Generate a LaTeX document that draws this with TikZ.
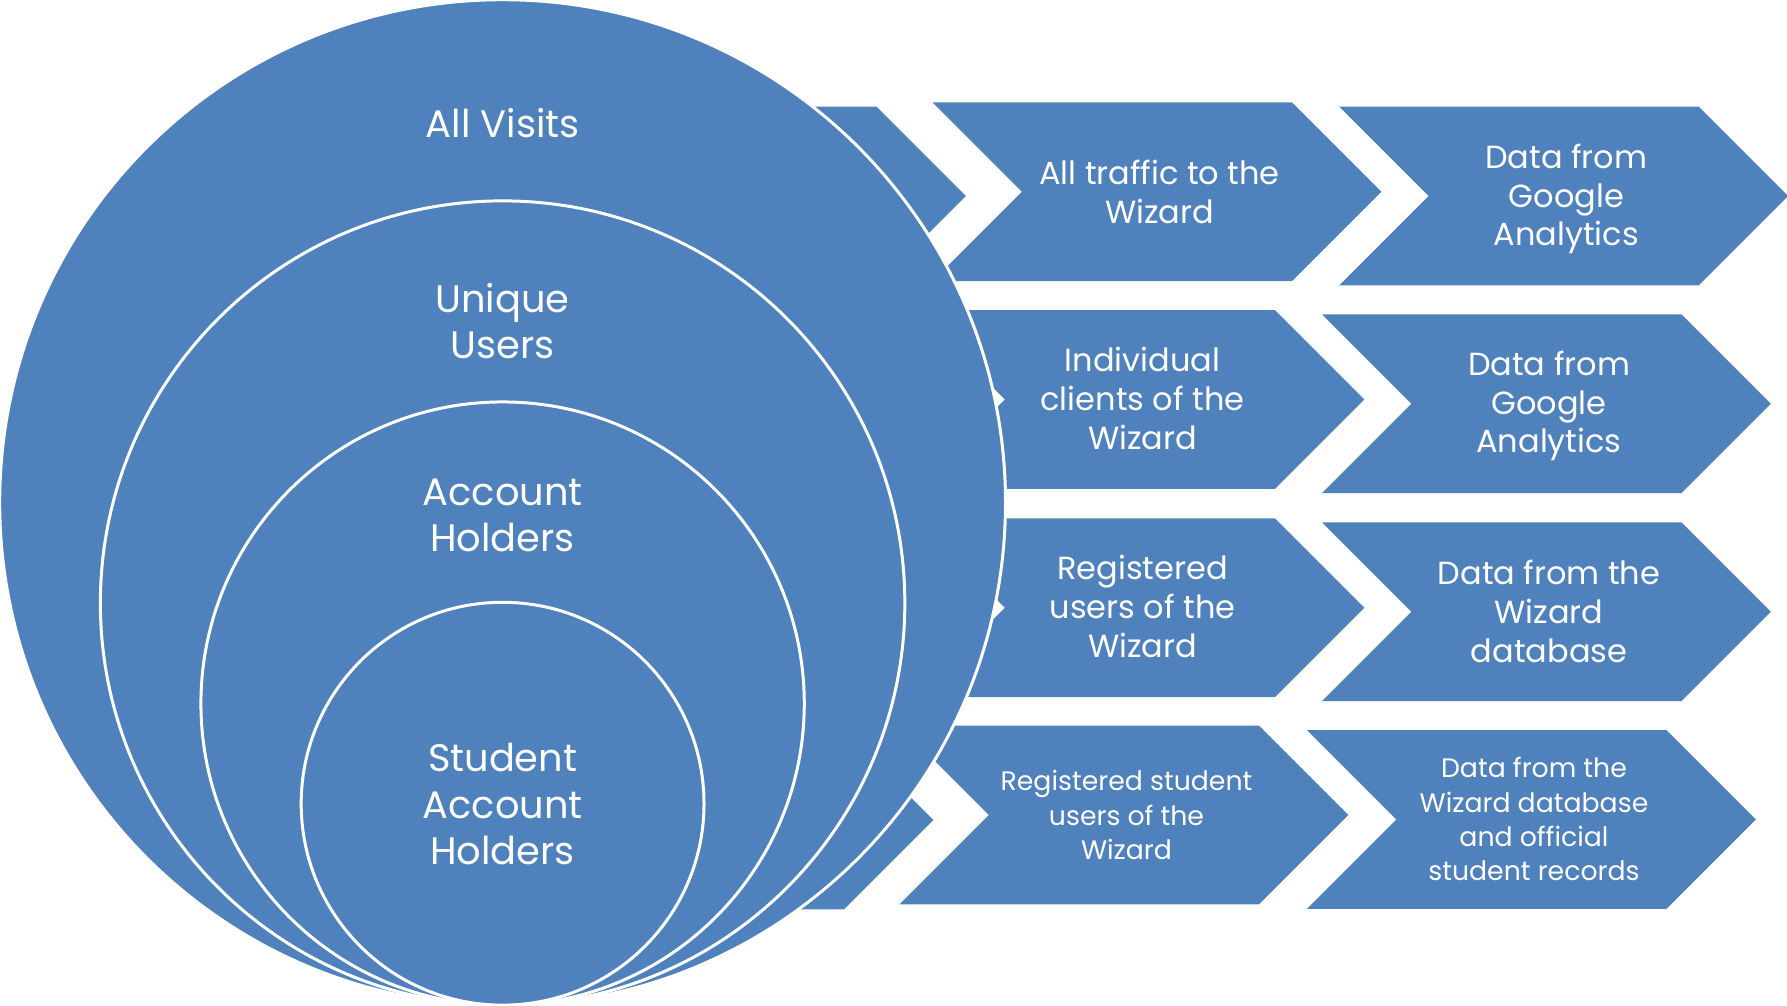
\documentclass[tikz,border=0pt]{standalone}
\usepackage{fontspec}
\setmainfont{Poppins}
\definecolor{acc}{HTML}{4F81BD}
\newcommand\mychev[2]{\fill[chev] (#1,#2-89.4) -- ++(359.5,0) -- ++(89.4,89.4) -- ++(-89.4,89.4) -- ++(-359.5,0) -- ++(89.4,-89.4) -- cycle;}
\begin{document}
\begin{tikzpicture}[x=0.01cm,y=-0.01cm,
  chev/.style={fill=acc},
  ring/.style={fill=acc,draw=white,line width=0.85pt},
  lbl/.style={text=white,align=center,inner sep=0pt},
  big/.style={lbl,font=\fontsize{10.9}{13.1}\selectfont},
  mid/.style={lbl,font=\fontsize{9.1}{11.05}\selectfont},
  small/.style={lbl,font=\fontsize{7.6}{9.7}\selectfont}]
\useasboundingbox (0,0) rectangle (1787,1005);
% back chevrons (partly hidden)
\mychev{517}{196}
\mychev{484.5}{820}
% main column
\mychev{932.5}{191.7}
\mychev{915.5}{399.5}
\mychev{915.5}{607.7}
\mychev{899.5}{815}
% right column
\mychev{1339.3}{196}
\mychev{1322}{403.8}
\mychev{1322}{611.7}
\mychev{1307}{819.5}
% nested circles
\path[ring] (502.6,502.6) circle[radius=5.026cm];
\path[ring] (502.6,603.1) circle[radius=4.02cm];
\path[ring] (502.6,703.6) circle[radius=3.015cm];
\path[ring] (502.6,803.7) circle[radius=2.013cm];
% circle labels
\node[big] (c1) at (502.6,123) {All Visits};
\node[big] (c2) at (502.6,321) {Unique\\Users};
\node[big] (c3) at (502.6,515) {Account\\Holders};
\node[big] (c4) at (502.6,804) {Student\\Account\\Holders};
% chevron labels
\node[mid] (m1) at (1159.5,191.7) {All traffic to the\\Wizard};
\node[mid] (m2) at (1142.5,398.5) {Individual\\clients of the\\Wizard};
\node[mid] (m3) at (1142.5,606.7) {Registered\\users of the\\Wizard};
\node[small] (m4) at (1126.5,815) {Registered student\\users of the\\Wizard};
\node[mid] (r1) at (1566.3,199) {Data from\\Google\\Analytics};
\node[mid] (r2) at (1549,406) {Data from\\Google\\Analytics};
\node[mid] (r3) at (1549,611.2) {Data from the\\Wizard\\database};
\node[small] (r4) at (1534,819) {Data from the\\Wizard database\\and official\\student records};
\end{tikzpicture}
\end{document}
